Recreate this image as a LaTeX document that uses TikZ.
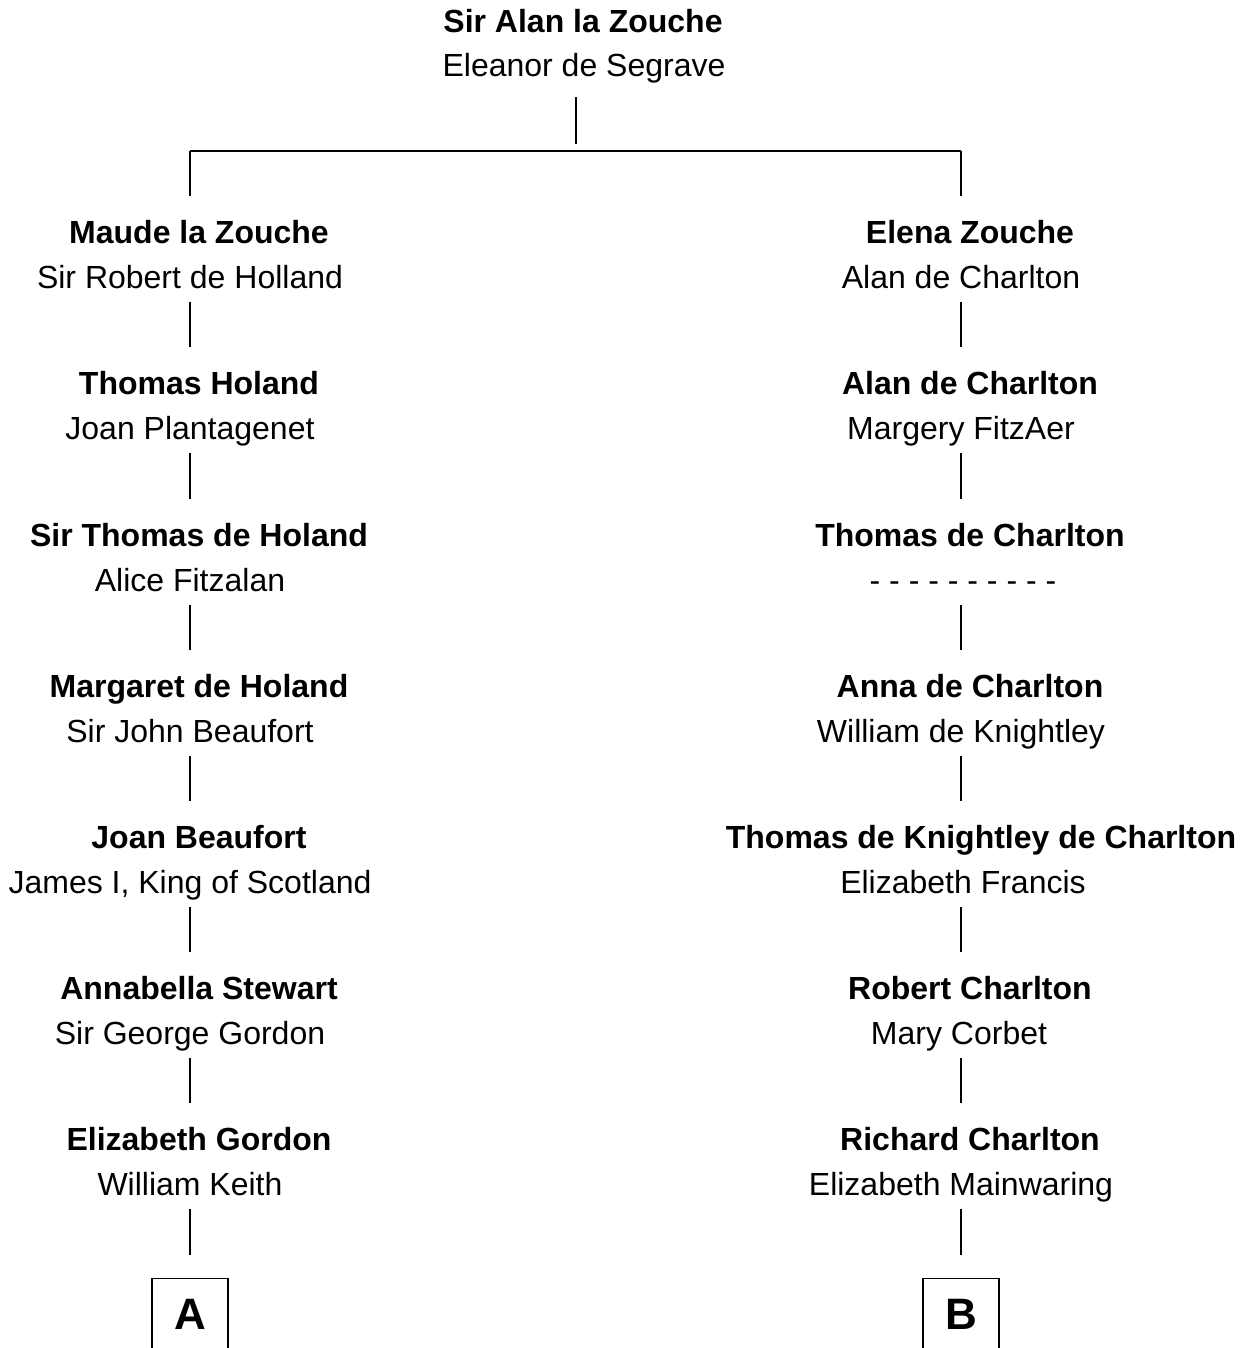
\documentclass[tikz,border=0pt]{standalone}
\usepackage{fontspec}
\setmainfont{Liberation Sans}
\usepackage{tikz}
\usetikzlibrary{calc}
\def\ColL{190}
\def\ColR{961}
\def\ForkY{151}

\tikzset{
	person/.style={anchor=base,inner sep=0pt,font=\fontsize{16pt}{19pt}\selectfont\bfseries,text height=11.5pt,text depth=3.5pt},
	spouse/.style={person,font=\fontsize{16pt}{19pt}\selectfont},
	descent/.style={line width=0.6pt,shorten <=3.5pt,shorten >=12pt},
	branch/.style={draw,line width=0.7pt,inner sep=0pt,minimum width=38pt,anchor=north,font=\fontsize{22pt}{26pt}\selectfont\bfseries,text height=25.3pt,text depth=20pt}
}

\begin{document}
\begin{tikzpicture}[x=0.5pt,y=-0.5pt]
	\useasboundingbox (0,0) rectangle (1249,1348);
	% 
	\node[person] (alanz) at (583,33) {Sir Alan la Zouche};
	\node[spouse] (eleanor) at (584,77) {Eleanor de Segrave};
	\coordinate (fork) at (576,\ForkY);
	\coordinate (forkL) at (\ColL,\ForkY);
	\coordinate (forkR) at (\ColR,\ForkY);
	% 
	\node[person] (maude) at (\ColL+9,243) {Maude la Zouche};
	\node[spouse] (robert) at (\ColL,288) {Sir Robert de Holland};
	\node[person] (thomas) at (\ColL+9,394) {Thomas Holand};
	\node[spouse] (joan) at (\ColL,439) {Joan Plantagenet};
	\node[person] (thomasdh) at (\ColL+9,546) {Sir Thomas de Holand};
	\node[spouse] (alice) at (\ColL,591) {Alice Fitzalan};
	\node[person] (margaret) at (\ColL+9,697) {Margaret de Holand};
	\node[spouse] (john) at (\ColL,742) {Sir John Beaufort};
	\node[person] (joanb) at (\ColL+9,848) {Joan Beaufort};
	\node[spouse] (james) at (\ColL,893) {James I, King of Scotland};
	\node[person] (annabella) at (\ColL+9,999) {Annabella Stewart};
	\node[spouse] (george) at (\ColL,1044) {Sir George Gordon};
	\node[person] (elizabeth) at (\ColL+9,1150) {Elizabeth Gordon};
	\node[spouse] (keith) at (\ColL,1195) {William Keith};
	\node[branch] (boxA) at (\ColL,1278) {A};
	% 
	\node[person] (elena) at (\ColR+9,243) {Elena Zouche};
	\node[spouse] (alan) at (\ColR,288) {Alan de Charlton};
	\node[person] (alanc) at (\ColR+9,394) {Alan de Charlton};
	\node[spouse] (margery) at (\ColR,439) {Margery FitzAer};
	\node[person] (thomasc) at (\ColR+9,546) {Thomas de Charlton};
	\node[spouse] (unknown) at (\ColR+2,591) {- - - - - - - - - -};
	\node[person] (anna) at (\ColR+9,697) {Anna de Charlton};
	\node[spouse] (william) at (\ColR,742) {William de Knightley};
	\node[person] (thomask) at (\ColR+20,848) {Thomas de Knightley de Charlton};
	\node[spouse] (francis) at (\ColR+2,893) {Elizabeth Francis};
	\node[person] (robertc) at (\ColR+9,999) {Robert Charlton};
	\node[spouse] (corbet) at (\ColR-2,1044) {Mary Corbet};
	\node[person] (richard) at (\ColR+9,1150) {Richard Charlton};
	\node[spouse] (mainwaring) at (\ColR,1195) {Elizabeth Mainwaring};
	\node[branch] (boxB) at (\ColR,1278) {B};
	% 
	\draw[line width=0.6pt,shorten <=6.5pt,shorten >=3.5pt] (fork |- eleanor.south) -- (fork);
	\draw[line width=0.6pt] (forkL) -- (forkR);
	\draw[descent,shorten <=0pt] (forkL) -- (forkL |- maude.north);
	\draw[descent,shorten <=0pt] (forkR) -- (forkR |- elena.north);
	% 
	\draw[descent] (robert.south) -- (robert.south |- thomas.north);
	\draw[descent] (joan.south) -- (joan.south |- thomasdh.north);
	\draw[descent] (alice.south) -- (alice.south |- margaret.north);
	\draw[descent] (john.south) -- (john.south |- joanb.north);
	\draw[descent] (james.south) -- (james.south |- annabella.north);
	\draw[descent] (george.south) -- (george.south |- elizabeth.north);
	\draw[descent,shorten >=11.5pt] (keith.south) -- (boxA.north);
	% 
	\draw[descent] (alan.south) -- (alan.south |- alanc.north);
	\draw[descent] (margery.south) -- (margery.south |- thomasc.north);
	\draw[descent] (unknown.south -| boxB) -- (boxB |- anna.north);
	\draw[descent] (william.south) -- (william.south |- thomask.north);
	\draw[descent] (francis.south -| boxB) -- (boxB |- robertc.north);
	\draw[descent] (corbet.south -| boxB) -- (boxB |- richard.north);
	\draw[descent,shorten >=11.5pt] (mainwaring.south) -- (boxB.north);
\end{tikzpicture}
\end{document}
